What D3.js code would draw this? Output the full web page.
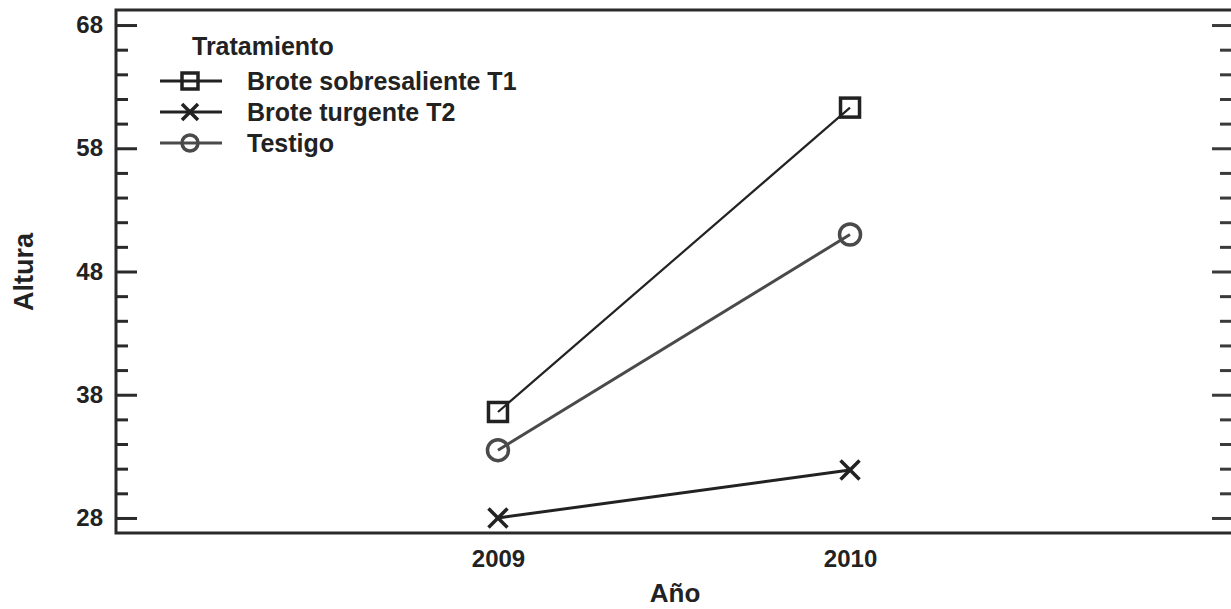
<!DOCTYPE html>
<html>
<head>
<meta charset="utf-8">
<script src="https://cdn.jsdelivr.net/npm/d3@7"></script>
<style>
  html, body { margin: 0; padding: 0; background: #fff; }
  svg { display: block; }
  text { font-family: "Liberation Sans", Arial, sans-serif; font-weight: bold; fill: #222; }
</style>
</head>
<body>
<svg id="chart" width="1231" height="609"></svg>
<script>
// ---- data ----
const years = [2009, 2010];
const seriesNames = ["Brote sobresaliente T1", "Brote turgente T2", "Testigo"];
const seriesT1 = [36.6, 61.3];
const seriesT2 = [28.0, 31.9];
const seriesTestigo = [33.5, 51.0];
const yTickValues = [28, 38, 48, 58, 68];
const yMinorValues = [30, 32, 34, 36, 40, 42, 44, 46, 50, 52, 54, 56, 60, 62, 64, 66];
const legendTitle = "Tratamiento";
const xTitle = "Año";
const yTitle = "Altura";

(function () {
// ---- layout ----
const svg = d3.select("#chart");
const mLeft = 116, mRight = 1231, mTop = 10, mBottom = 533;

const x = d3.scaleLinear().domain([2007.915, 2011.085]).range([mLeft, 1232]);
const y = d3.scaleLinear().domain([26.78, 69.22]).range([mBottom, mTop]);

const axisColor = "#2a2a2a";

// frame (left, top, bottom)
const frame = svg.append("g").attr("stroke", axisColor).attr("stroke-width", 3).attr("fill", "none");
frame.append("path").attr("d", `M${x.range()[0]},${y.range()[1]} H${x.range()[1] + 2} M${x.range()[0]},${y.range()[0]} H${x.range()[1] + 2} M${x.range()[0]},${y.range()[1] - 1.5} V${y.range()[0] + 1.5}`);

// left axis major
const gL = svg.append("g").attr("transform", `translate(${mLeft},0)`)
  .call(d3.axisLeft(y).tickValues(yTickValues).tickSize(-21).tickPadding(13).tickFormat(d3.format("d")));
gL.select(".domain").remove();
gL.selectAll(".tick line").attr("stroke", axisColor).attr("stroke-width", 3);
gL.selectAll(".tick text").style("font-size", "24px").attr("fill", "#222");

// left axis minor
const gLm = svg.append("g").attr("transform", `translate(${mLeft},0)`)
  .call(d3.axisLeft(y).tickValues(yMinorValues).tickSize(-12).tickFormat(""));
gLm.select(".domain").remove();
gLm.selectAll(".tick line").attr("stroke", axisColor).attr("stroke-width", 3);

// right axis major/minor
const gR = svg.append("g").attr("transform", `translate(${mRight},0)`)
  .call(d3.axisRight(y).tickValues(yTickValues).tickSize(-19).tickFormat(""));
gR.select(".domain").remove();
gR.selectAll(".tick line").attr("stroke", "#3a3a3a").attr("stroke-width", 3);
const gRm = svg.append("g").attr("transform", `translate(${mRight},0)`)
  .call(d3.axisRight(y).tickValues(yMinorValues).tickSize(-11).tickFormat(""));
gRm.select(".domain").remove();
gRm.selectAll(".tick line").attr("stroke", "#3a3a3a").attr("stroke-width", 3);

// bottom axis labels
const gB = svg.append("g").attr("transform", `translate(0,${mBottom})`)
  .call(d3.axisBottom(x).tickValues(years).tickSize(0).tickPadding(17).tickFormat(d3.format("d")));
gB.select(".domain").remove();
gB.selectAll(".tick text").style("font-size", "24px").attr("fill", "#222");

// axis titles
svg.append("text").attr("x", (x(years[0]) + x(years[1])) / 2 + 1).attr("y", 602)
  .attr("text-anchor", "middle").style("font-size", "26px").text(xTitle);
svg.append("text").attr("transform", `translate(33,272) rotate(-90)`)
  .attr("text-anchor", "middle").style("font-size", "27px").text(yTitle);

// series definitions
const series = [
  { name: seriesNames[0], values: seriesT1, color: "#222", lw: 2.2, marker: "square" },
  { name: seriesNames[1], values: seriesT2, color: "#222", lw: 3, marker: "x" },
  { name: seriesNames[2], values: seriesTestigo, color: "#4a4a4a", lw: 3, marker: "circle" }
];

function drawMarker(g, type, cx, cy, s, color) {
  if (type === "square") {
    g.append("rect").attr("x", cx - s / 2).attr("y", cy - s / 2).attr("width", s).attr("height", s)
      .attr("fill", "none").attr("stroke", color).attr("stroke-width", 3.5);
  } else if (type === "circle") {
    g.append("circle").attr("cx", cx).attr("cy", cy).attr("r", s / 2)
      .attr("fill", "none").attr("stroke", color).attr("stroke-width", 3.5);
  } else {
    const h = s / 2;
    g.append("path").attr("d", `M${cx - h},${cy - h}L${cx + h},${cy + h}M${cx - h},${cy + h}L${cx + h},${cy - h}`)
      .attr("stroke", color).attr("stroke-width", 3.5).attr("fill", "none");
  }
}

const line = d3.line().x((d, i) => x(years[i])).y(d => y(d));
series.forEach(s => {
  const g = svg.append("g");
  g.append("path").datum(s.values).attr("d", line).attr("fill", "none")
    .attr("stroke", s.color).attr("stroke-width", s.lw);
  s.values.forEach((v, i) => drawMarker(g, s.marker, x(years[i]), y(v), s.marker === "circle" ? 21 : 19, s.color));
});

// legend
const lg = svg.append("g");
lg.append("text").attr("x", 192).attr("y", 55).style("font-size", "25px").text(legendTitle);
series.forEach((s, i) => {
  const cy = 81 + i * 31;
  lg.append("line").attr("x1", 160).attr("x2", 222).attr("y1", cy).attr("y2", cy)
    .attr("stroke", s.color).attr("stroke-width", 3);
  drawMarker(lg, s.marker, 190, cy, 16, s.color);
  lg.append("text").attr("x", 247).attr("y", cy + 9).style("font-size", "25px").text(s.name);
});
})();
</script>
</body>
</html>
